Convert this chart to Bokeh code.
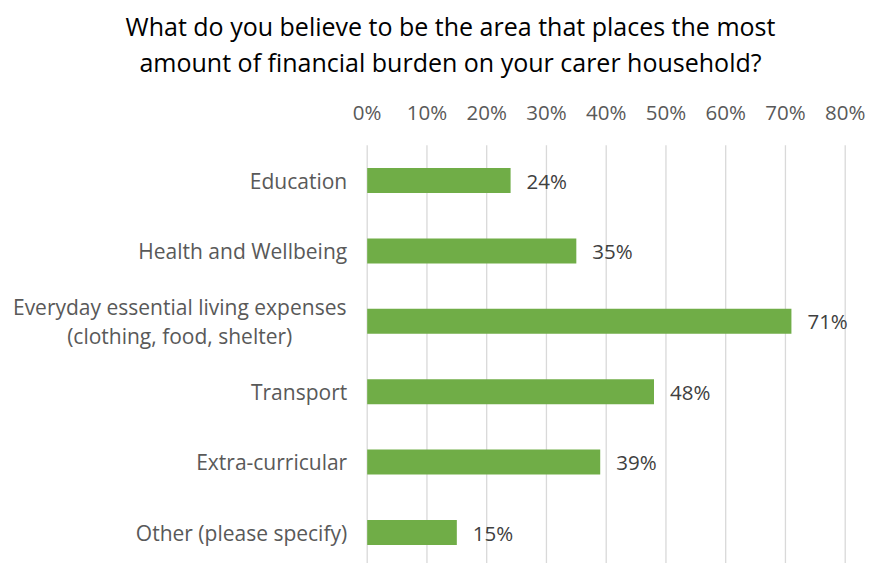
from bokeh.plotting import figure
from bokeh.models import Range1d, ColumnDataSource
from bokeh.core.properties import value
from bokeh.embed import file_html
from bokeh.resources import INLINE

# ---- data ----
title_lines = ["What do you believe to be the area that places the most",
               "amount of financial burden on your carer household?"]
categories = ["Education",
              "Health and Wellbeing",
              "Everyday essential living expenses\n(clothing, food, shelter)",
              "Transport",
              "Extra-curricular",
              "Other (please specify)"]
percentages = [24, 35, 71, 48, 39, 15]
tick_values = [0, 10, 20, 30, 40, 50, 60, 70, 80]
tick_labels = ["0%", "10%", "20%", "30%", "40%", "50%", "60%", "70%", "80%"]

FONT = "Open Sans"
W, H = 875, 563
ZERO_PX = 366.7      # pixel position of 0%
PX_PER_UNIT = 5.975  # pixels per percentage point
ROW0_PX = 180.0      # pixel centre of first row
ROW_PX = 70.4        # row spacing

rows = list(range(len(categories)))

p = figure(width=W, height=H, output_backend="svg", toolbar_location=None,
           x_range=Range1d(-ZERO_PX / PX_PER_UNIT, (W - ZERO_PX) / PX_PER_UNIT),
           y_range=Range1d((H - ROW0_PX) / ROW_PX, -ROW0_PX / ROW_PX),
           x_axis_location=None, y_axis_location=None,
           min_border=0)
p.outline_line_color = None
p.grid.visible = False
p.background_fill_color = "white"
p.border_fill_color = "white"

top_edge = -0.5
bottom_edge = (H - ROW0_PX) / ROW_PX

# vertical gridlines
p.segment(x0=tick_values, x1=tick_values,
          y0=[top_edge] * len(tick_values), y1=[bottom_edge] * len(tick_values),
          line_color="#d9d9d9", line_width=1.3)

# top axis tick labels
p.text(x=tick_values, y=[top_edge] * len(tick_values), text=tick_labels,
       y_offset=-33, text_align="center", text_baseline="middle",
       text_font=value(FONT), text_font_size="20.5px", text_color="#595959")

# bars
src = ColumnDataSource(dict(y=rows, v=percentages,
                            lbl=[f"{v}%" for v in percentages]))
p.hbar(y="y", left=0, right="v", height=0.355, source=src,
       fill_color="#70ad47", line_color=None)
p.text(x="v", y="y", text="lbl", source=src, x_offset=16,
       text_baseline="middle", text_align="left",
       text_font=value(FONT), text_font_size="20.5px", text_color="#404040")

# category labels
multi = ["\n" in c for c in categories]
cat_src = ColumnDataSource(dict(
    x=[0] * len(categories), y=rows, t=categories,
    xo=[-187.5 if m else -20 for m in multi],
    al=["center" if m else "right" for m in multi]))
p.text(x="x", y="y", text="t", x_offset="xo", text_align="al", source=cat_src,
       text_baseline="middle", text_font=value(FONT), text_font_size="21px",
       text_color="#595959", text_line_height=1.03)

# title
p.text(x=[0, 0], y=[top_edge, top_edge], text=title_lines,
       x_offset=450 - ZERO_PX, y_offset=[26 - 145, 62 - 145],
       text_align="center", text_baseline="middle",
       text_font=value(FONT), text_font_size="25px", text_color="#000000")

open("out.html", "w").write(file_html(p, INLINE))
